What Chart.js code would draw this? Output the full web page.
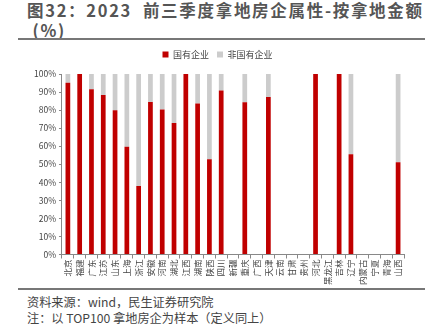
<!DOCTYPE html>
<html>
<head>
<meta charset="utf-8">
<script src="https://cdn.jsdelivr.net/npm/chart.js@4/dist/chart.umd.min.js"></script>
<style>
  body { margin: 0; width: 433px; height: 330px; background: #fff; position: relative; overflow: hidden;
         font-family: "Noto Sans CJK SC", "Noto Sans", sans-serif; }
  .title { position: absolute; left: 27px; top: 0px; font-size: 16.5px; font-weight: bold; color: #555;
           line-height: 20px; letter-spacing: 1.7px; white-space: nowrap; }
  .rule { position: absolute; left: 18px; width: 407px; height: 2px; background: #777; }
  .wrap { position: absolute; left: 0; top: 42px; width: 433px; height: 246px; }
  .note { position: absolute; left: 27px; font-size: 12.2px; color: #444; }
</style>
</head>
<body>
<div class="title">图32：2023&nbsp; 前三季度拿地房企属性-按拿地金额<br>&nbsp;(%)</div>
<div class="rule" style="top:38px"></div>
<div class="wrap"><canvas id="c"></canvas></div>
<div class="rule" style="top:288px"></div>
<div class="note" style="top:293px">资料来源：wind，民生证券研究院</div>
<div class="note" style="top:309px">注：以 TOP100 拿地房企为样本（定义同上）</div>
<script>
const provinces = ['北京', '福建', '广东', '江苏', '山东', '上海', '浙江', '安徽', '河南', '湖北', '江西', '湖南', '陕西', '四川',
  '新疆', '重庆', '广西', '天津', '云南', '甘肃', '贵州', '河北', '黑龙江', '吉林', '辽宁', '内蒙古', '宁夏', '青海', '山西'];
const stateOwned = [95.2, 100, 91.6, 88.3, 79.9, 59.7, 38.0, 84.5, 80.3, 72.8, 100, 83.6, 52.8, 90.8,
  null, 84.3, null, 87.2, null, null, null, 100, null, 100, 55.6, null, null, null, 51.1];
const nonStateOwned = stateOwned.map(v => v === null ? null : Math.round((100 - v) * 10) / 10);
const yTicks = [0, 10, 20, 30, 40, 50, 60, 70, 80, 90, 100];

const tickFont = { family: '"Noto Sans CJK SC", sans-serif', size: 8.5 };

// push the plot down a little below the legend
const legendGap = {
  id: 'legendGap',
  beforeInit(chart) {
    const fit = chart.legend.fit;
    chart.legend.fit = function () { fit.bind(chart.legend)(); this.height += 5; };
  }
};

new Chart(document.getElementById('c'), {
  type: 'bar',
  data: {
    labels: provinces,
    datasets: [
      { label: '国有企业', data: stateOwned, backgroundColor: '#C00000', barPercentage: 0.4, categoryPercentage: 1 },
      { label: '非国有企业', data: nonStateOwned, backgroundColor: '#CCCCCC', barPercentage: 0.4, categoryPercentage: 1 }
    ]
  },
  plugins: [legendGap],
  options: {
    responsive: true,
    maintainAspectRatio: false,
    animation: false,
    layout: { padding: { left: 31, right: 29, top: 0, bottom: 2 } },
    plugins: {
      tooltip: { enabled: false },
      legend: {
        position: 'top',
        labels: { boxWidth: 6, boxHeight: 6, padding: 8, color: '#444',
                  font: { family: '"Noto Sans CJK SC", sans-serif', size: 9 } }
      }
    },
    scales: {
      x: {
        stacked: true,
        grid: { display: true, drawOnChartArea: false, offset: true, tickLength: 4, color: '#888' },
        border: { color: '#888' },
        ticks: { autoSkip: false, minRotation: 90, maxRotation: 90, color: '#444', font: tickFont, padding: 1 }
      },
      y: {
        stacked: true,
        min: 0, max: 100,
        afterBuildTicks: s => { s.ticks = yTicks.map(v => ({ value: v })); },
        grid: { display: true, drawOnChartArea: false, tickLength: 3, color: '#888' },
        border: { color: '#888' },
        ticks: { color: '#444', font: tickFont, padding: 3, callback: v => v + '%' }
      }
    }
  }
});
</script>
</body>
</html>
